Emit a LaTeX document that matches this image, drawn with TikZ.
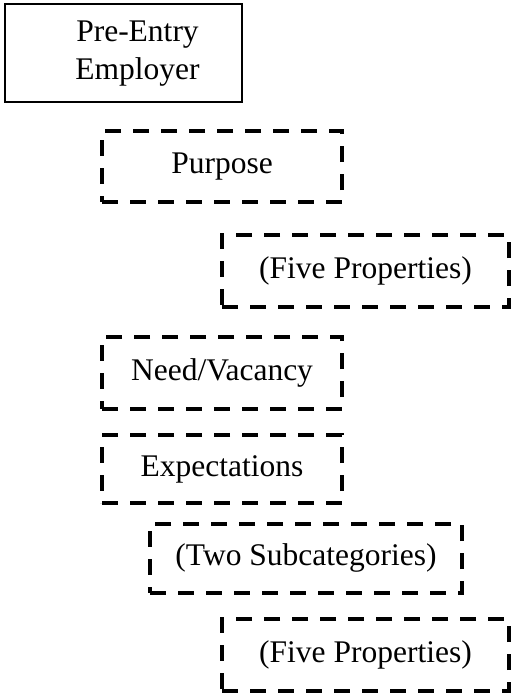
\documentclass[tikz,border=0pt]{standalone}
\usepackage{fontspec}
\setmainfont{Liberation Serif}
\begin{document}
\begin{tikzpicture}[x=1pt,y=-1pt,
  every node/.style={font=\fontsize{31.5}{38}\selectfont, inner sep=0pt, outer sep=0pt},
  solidbox/.style={draw, line width=1.5pt},
  dashbox/.style={draw, line width=3.2pt, dash pattern=on 16pt off 12pt,
                  text height=21pt, text depth=7pt},
]
\useasboundingbox (0,0) rectangle (512,693);

% top category (solid frame, text set slightly right of centre)
\node[solidbox, minimum width=237pt, minimum height=98pt] (employer) at (123.5,53)
  {\hspace*{28pt}\raisebox{-6.5pt}{\begin{tabular}{@{}c@{}}Pre-Entry\\Employer\end{tabular}}};

% sub-categories and their properties (dashed frames)
\node[dashbox, minimum width=240pt, minimum height=71pt] (purpose)  at (222,166.5) {Purpose};
\node[dashbox, minimum width=287pt, minimum height=72pt] (purposep) at (365.5,271) {(Five Properties)};
\node[dashbox, minimum width=240pt, minimum height=72pt] (need)     at (222,373)   {Need/Vacancy};
\node[dashbox, minimum width=240pt, minimum height=68pt] (expect)   at (222,469)   {Expectations};
\node[dashbox, minimum width=312pt, minimum height=69pt] (twosub)   at (306,558.5) {(Two Subcategories)};
\node[dashbox, minimum width=287pt, minimum height=72pt] (expectp)  at (365.5,655) {(Five Properties)};
\end{tikzpicture}
\end{document}
